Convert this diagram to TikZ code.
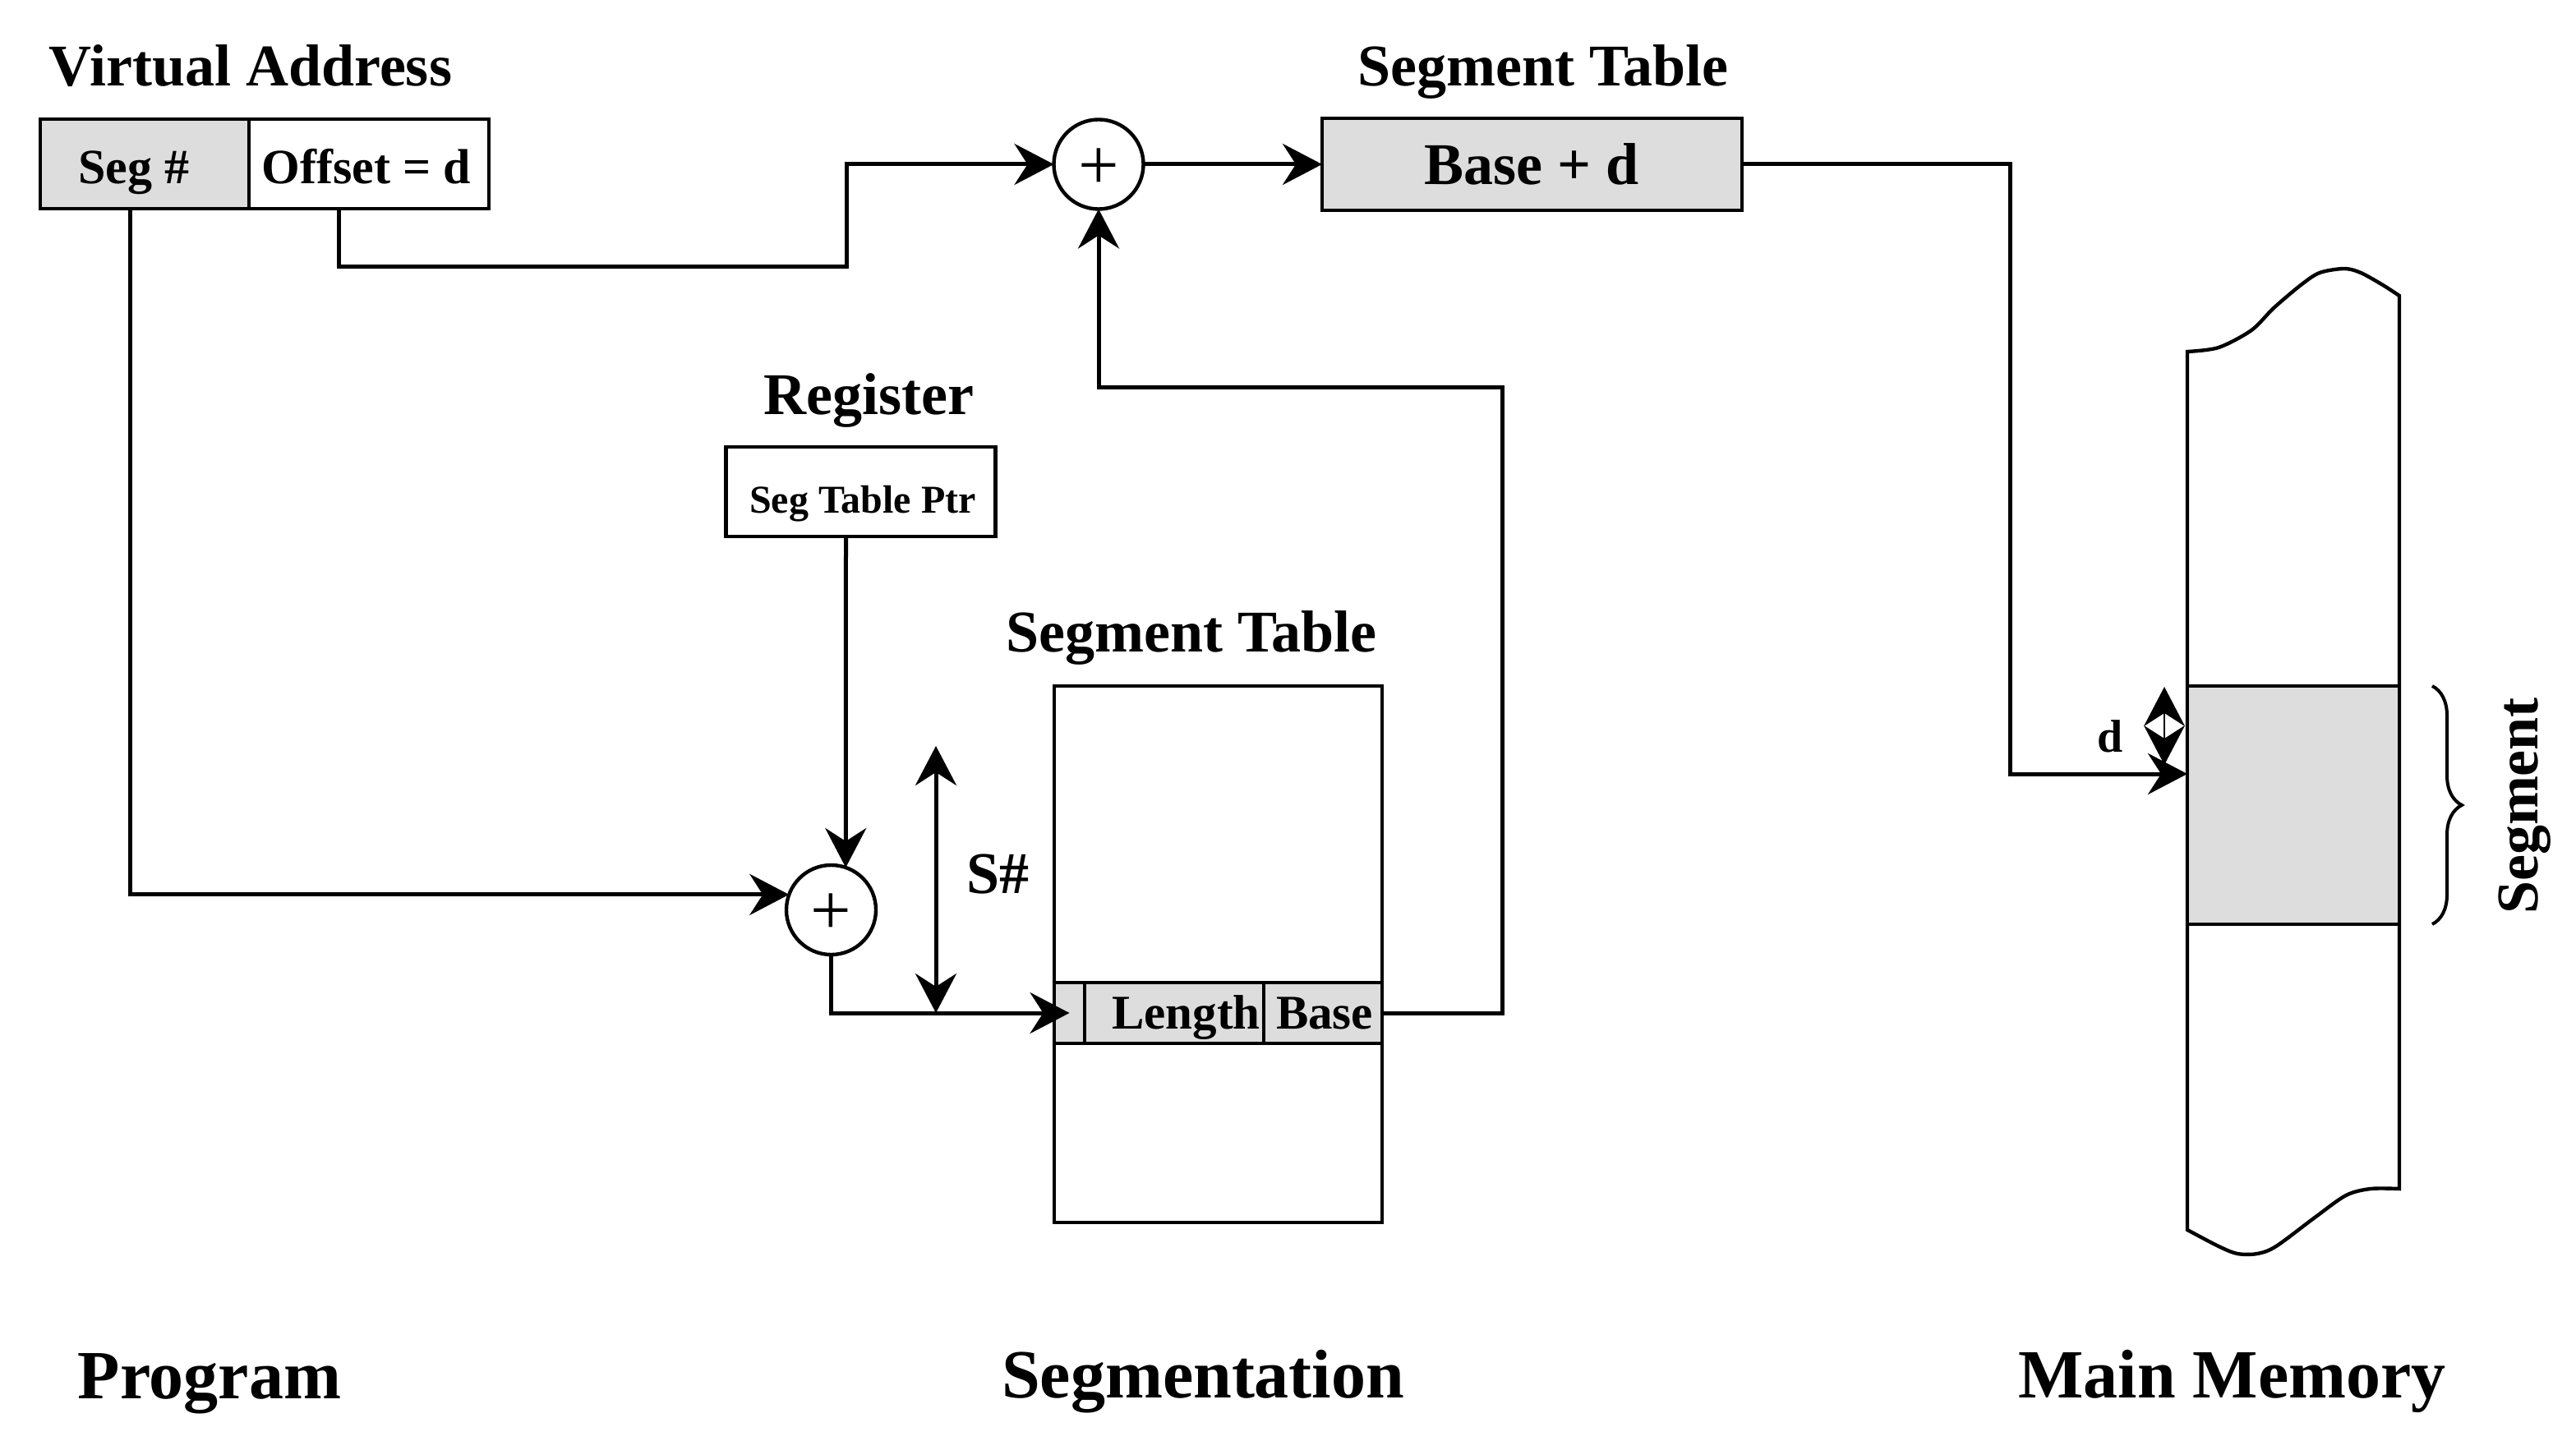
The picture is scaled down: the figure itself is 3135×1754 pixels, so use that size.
\documentclass[tikz,border=0pt]{standalone}
\usepackage{fontspec}
\setmainfont{Liberation Serif}
\usetikzlibrary{arrows.meta,decorations.pathreplacing}
\definecolor{cellgray}{RGB}{221,221,221}
\begin{document}
\begin{tikzpicture}[x=0.5pt,y=-0.5pt,
  >={Stealth[length=24pt,width=25pt,inset=8pt]},
  conn/.style={line width=2.5pt},
  box/.style={draw, line width=2.4pt, rectangle, inner sep=0pt, outer sep=0pt},
  adder/.style={draw, circle, line width=2.2pt, inner sep=0pt, outer sep=0pt, minimum size=54.5pt, font=\fontsize{44}{44}\selectfont},
  lab/.style={anchor=base, inner sep=0pt, font=\bfseries\fontsize{36}{40}\selectfont},
  biglab/.style={anchor=base, inner sep=0pt, font=\bfseries\fontsize{42}{46}\selectfont},
  celllab/.style={anchor=base, inner sep=0pt, font=\bfseries\fontsize{30}{34}\selectfont},
  rowlab/.style={anchor=base, inner sep=0pt, font=\bfseries\fontsize{29.5}{32}\selectfont},
]
\useasboundingbox (0,0) rectangle (3135,1754);

% Virtual address
\node[box, fill=cellgray, minimum width=127pt, minimum height=54.5pt] (seg) at (176,199.5) {};
\node[box, minimum width=146pt, minimum height=54.5pt] (off) at (449,199.5) {};
\node[lab] (tVA) at (305,105) {Virtual Address};
\node[celllab] (tSeg) at (163,224) {Seg \#};
\node[celllab] (tOff) at (446,224) {Offset = d};

% adders and Base + d
\node[adder] (c1) at (1337,200) {\smash{\raisebox{-15.5pt}{+}}};
\node[box, fill=cellgray, minimum width=255.5pt, minimum height=56pt] (bd) at (1864.5,200) {};
\node[lab] (tST1) at (1878,105) {Segment Table};
\node[lab] (tBd) at (1864,225) {Base + d};

% register
\node[box, minimum width=164pt, minimum height=54.5pt] (reg) at (1047.5,598.5) {};
\node[lab] (tReg) at (1057.5,504) {Register};
\node[anchor=base, inner sep=0pt, font=\bfseries\fontsize{24}{28}\selectfont] (tPtr) at (1050,624) {Seg Table Ptr};

\node[adder] (c2) at (1011.5,1107.5) {\smash{\raisebox{-15pt}{+}}};

% segment table
\node[box, minimum width=199.5pt, minimum height=326.5pt] (tbl) at (1482.5,1161.5) {};
\node[box, fill=cellgray, minimum width=18.5pt, minimum height=37pt] (rowA) at (1301.5,1233) {};
\node[box, fill=cellgray, minimum width=109pt, minimum height=37pt] (rowL) at (1429,1233) {};
\node[box, fill=cellgray, minimum width=72pt, minimum height=37pt] (rowB) at (1610,1233) {};
\node[lab] (tST2) at (1450,793) {Segment Table};
\node[rowlab] (tLen) at (1443.5,1252.6) {Length};
\node[rowlab] (tBase) at (1612,1252.6) {Base};
\node[lab] (tS) at (1214.5,1087) {S\#};

% main memory
\draw[line width=2.2pt, fill=white] (2662,428) -- plot[smooth] coordinates {(2662,1497) (2700,1517) (2723,1526) (2747,1526) (2770,1517) (2817,1482) (2855,1455) (2885,1447) (2920,1447)}
  -- (2920,360) -- plot[smooth] coordinates {(2920,360) (2900,347) (2873,332) (2853,327) (2823,332) (2800,347) (2767,375) (2740,402) (2700,423) (2662,428)} -- cycle;
\node[box, fill=cellgray, minimum width=129pt, minimum height=145pt] (segm) at (2791,980) {};
\draw[line width=2pt, decorate, decoration={brace, amplitude=18pt}] (2960,835) -- (2960,1125);
\node[lab, rotate=90] (tSegm) at (3088,981) {Segment};
\node[anchor=base, inner sep=0pt, font=\bfseries\fontsize{28}{30}\selectfont] (td) at (2568,915) {d};

% connectors
\draw[conn,->] ([xshift=-9pt]seg.south) |- (c2.160);
\coordinate (o1) at (1030,325);
\draw[conn,->] ([xshift=-18.5pt]off.south) |- (o1) |- (c1.west);
\draw[conn,->] (c1.east) -- (bd.west);
\coordinate (m1) at (2446,942);
\draw[conn,->] (bd.east) -| (m1) -- (m1 -| segm.west);
\draw[conn,->] ([xshift=-9pt]reg.south) -- (c2.71);
\draw[conn,->] (c2.south) |- (rowA.center);
\coordinate (s1) at (1139,908);
\draw[conn,<->] (s1) -- (s1 |- rowA.center);
\coordinate (k1) at (1828,472);
\draw[conn,->] (rowB.east) -| (k1) -| (c1.south);
\coordinate (d1) at (2634,836);
\coordinate (d2) at (2634,931);
\draw[line width=1.4pt,<->] (d1) -- (d2);

% bottom captions
\node[biglab] (tProg) at (255,1702) {Program};
\node[biglab] (tSegn) at (1464,1701) {Segmentation};
\node[biglab] (tMM) at (2716.5,1701) {Main Memory};
\end{tikzpicture}
\end{document}
